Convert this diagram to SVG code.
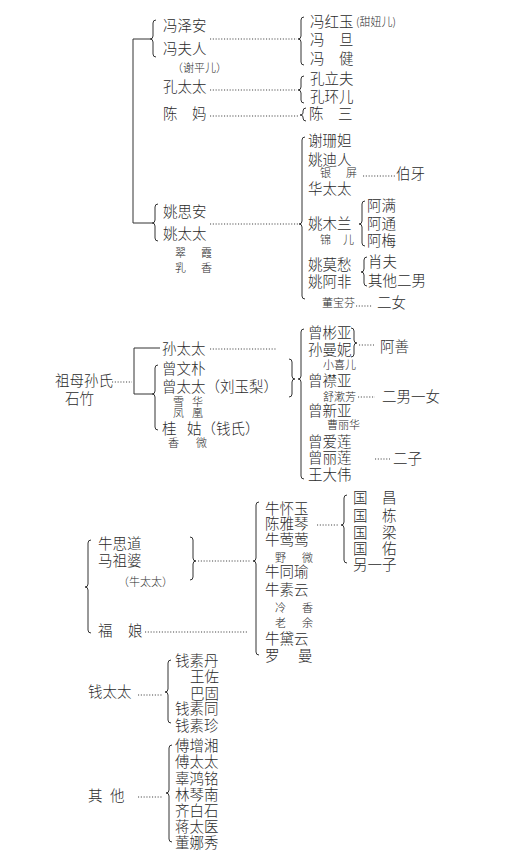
<svg xmlns="http://www.w3.org/2000/svg" width="515" height="857" viewBox="0 0 515 857">
<style>
text{font-family:"Noto Sans CJK SC","Noto Sans CJK TC",sans-serif;fill:#2b2b2b;font-weight:300}
.m{font-size:14.5px}
.s{font-size:11px}
.ln{fill:none;stroke:#333;stroke-width:1}
.dt{fill:none;stroke:#444;stroke-width:1.1;stroke-dasharray:1.1 1.7}
</style>
<rect width="515" height="857" fill="#fff"/>
<g id="connectors">
<!-- section 1 -->
<path class="ln" d="M133 39 H150 M133 39 V223 H152"/>
<path class="ln" d="M156 20 Q153 20 153 23 V36 Q153 39 150 39 Q153 39 153 42 V54 Q153 57 156 57"/>
<path class="ln" d="M304 17 Q301 17 301 20 V36 Q301 39 298 39 Q301 39 301 42 V62 Q301 65 304 65"/>
<path class="ln" d="M304 76 Q301 76 301 79 V87 Q301 90 298 90 Q301 90 301 93 V100 Q301 103 304 103"/>
<path class="ln" d="M306 108 Q303 108 303 111 V113 Q303 115 300 115 Q303 115 303 117 V118 Q303 121 306 121"/>
<path class="ln" d="M305 137 Q302 137 302 140 V221 Q302 224 299 224 Q302 224 302 227 V296 Q302 299 305 299"/>
<path class="ln" d="M158 204 Q155 204 155 207 V220 Q155 223 152 223 Q155 223 155 226 V238 Q155 241 158 241"/>
<path class="ln" d="M365 201 Q362 201 362 204 V221 Q362 224 359 224 Q362 224 362 227 V243 Q362 246 365 246"/>
<path class="ln" d="M367 257 Q364 257 364 260 V269 Q364 272 361 272 Q364 272 364 275 V283 Q364 286 367 286"/>
<path class="dt" d="M210 39 H297 M210 90 H297 M210 116 H299 M210 224 H298 M363 176 H395 M356 306 H372"/>
<!-- section 2 -->
<path class="dt" d="M112 382 H132 M210 349 H277 M359 345 H374 M358 397 H375 M375 459 H390"/>
<path class="ln" d="M160 348 H134 V394 H152"/>
<path class="ln" d="M158 365 Q155 365 155 368 V391 Q155 394 152 394 Q155 394 155 397 V427 Q155 430 158 430"/>
<path class="ln" d="M289 359 Q292 359 292 362 V376 Q292 379 295 379 Q292 379 292 382 V394 Q292 397 289 397"/>
<path class="ln" d="M304 329 Q301 329 301 332 V376 Q301 379 298 379 Q301 379 301 382 V476 Q301 479 304 479"/>
<path class="ln" d="M351 328 Q354 328 354 331 V340 Q354 343 357 343 Q354 343 354 346 V354 Q354 357 351 357"/>
<!-- section 3 -->
<path class="ln" d="M91 540 Q88 540 88 543 V584 Q88 587 85 587 Q88 587 88 590 V630 Q88 633 91 633"/>
<path class="ln" d="M190 537 Q193 537 193 540 V558 Q193 561 196 561 Q193 561 193 564 V577 Q193 580 190 580"/>
<path class="ln" d="M259 502 Q256 502 256 505 V558 Q256 561 253 561 Q256 561 256 564 V652 Q256 655 259 655"/>
<path class="ln" d="M347 495 Q344 495 344 498 V522 Q344 525 341 525 Q344 525 344 528 V560 Q344 563 347 563"/>
<path class="dt" d="M198 561 H251 M145 632 H248 M317 525 H338"/>
<!-- section 4 -->
<path class="ln" d="M171 660 Q168 660 168 663 V689 Q168 692 165 692 Q168 692 168 695 V720 Q168 723 171 723"/>
<path class="ln" d="M172 745 Q169 745 169 748 V790 Q169 793 166 793 Q169 793 169 796 V839 Q169 842 172 842"/>
<path class="dt" d="M138 695 H163 M138 797 H163"/>
</g>
<!-- section 1 nodes -->
<g id="n-fengzean"><text class="m" x="163" y="31">冯泽安</text></g>
<g id="n-fengfuren"><text class="m" x="163" y="54">冯夫人</text><text class="s" x="172" y="72">（谢平儿）</text></g>
<g id="n-kongtaitai"><text class="m" x="163" y="92">孔太太</text></g>
<g id="n-chenma"><text class="m" y="119"><tspan x="163">陈</tspan><tspan x="192">妈</tspan></text></g>
<g id="n-fenghongyu"><text class="m" x="310" y="27">冯红玉</text><text class="s" x="356" y="26">(甜妞儿)</text></g>
<g id="n-fengdan"><text class="m" y="45"><tspan x="310">冯</tspan><tspan x="339">旦</tspan></text></g>
<g id="n-fengjian"><text class="m" y="64"><tspan x="310">冯</tspan><tspan x="339">健</tspan></text></g>
<g id="n-konglifu"><text class="m" x="310" y="84">孔立夫</text></g>
<g id="n-konghuaner"><text class="m" x="310" y="102">孔环儿</text></g>
<g id="n-chensan"><text class="m" y="119"><tspan x="309">陈</tspan><tspan x="338">三</tspan></text></g>
<g id="n-yaosian"><text class="m" x="163" y="217">姚思安</text></g>
<g id="n-yaotaitai"><text class="m" x="163" y="239">姚太太</text></g>
<g id="n-cuixia"><text class="s" y="257"><tspan x="175">翠</tspan><tspan x="201">霞</tspan></text></g>
<g id="n-ruxiang"><text class="s" y="272"><tspan x="175">乳</tspan><tspan x="201">香</tspan></text></g>
<g id="n-xieshanjie"><text class="m" x="308" y="146">谢珊妲</text></g>
<g id="n-yaodiren"><text class="m" x="308" y="165">姚迪人</text></g>
<g id="n-yinping"><text class="s" y="177"><tspan x="320">银</tspan><tspan x="346">屏</tspan></text></g>
<g id="n-boya"><text class="m" x="396" y="179">伯牙</text></g>
<g id="n-huataitai"><text class="m" x="308" y="194">华太太</text></g>
<g id="n-yaomulan"><text class="m" x="308" y="229">姚木兰</text></g>
<g id="n-jiner"><text class="s" y="244"><tspan x="320">锦</tspan><tspan x="343">儿</tspan></text></g>
<g id="n-aman"><text class="m" x="367" y="211">阿满</text></g>
<g id="n-atong"><text class="m" x="367" y="229">阿通</text></g>
<g id="n-amei"><text class="m" x="367" y="246">阿梅</text></g>
<g id="n-yaomochou"><text class="m" x="308" y="270">姚莫愁</text></g>
<g id="n-yaoafei"><text class="m" x="308" y="287">姚阿非</text></g>
<g id="n-xiaofu"><text class="m" x="368" y="267">肖夫</text></g>
<g id="n-qitaernan"><text class="m" x="368" y="286">其他二男</text></g>
<g id="n-dongbaofen"><text class="s" x="322" y="307">董宝芬</text></g>
<g id="n-ernv"><text class="m" x="377" y="308">二女</text></g>
<!-- section 2 nodes -->
<g id="n-zumu"><text class="m" x="55" y="386">祖母孙氏</text><text class="m" x="65" y="404">石竹</text></g>
<g id="n-suntaitai"><text class="m" x="162" y="354">孙太太</text></g>
<g id="n-zengwenpu"><text class="m" x="162" y="374">曾文朴</text></g>
<g id="n-zengtaitai"><text class="m" x="162" y="392">曾太太（刘玉梨）</text></g>
<g id="n-xuehua"><text class="s" y="406"><tspan x="173">雪</tspan><tspan x="192">华</tspan></text></g>
<g id="n-fenghuang"><text class="s" y="417"><tspan x="173">凤</tspan><tspan x="192">凰</tspan></text></g>
<g id="n-guigu"><text class="m" y="434"><tspan x="162">桂</tspan><tspan x="187">姑（钱氏）</tspan></text></g>
<g id="n-xiangwei"><text class="s" y="447"><tspan x="168">香</tspan><tspan x="196">微</tspan></text></g>
<g id="n-zengbinya"><text class="m" x="308" y="338">曾彬亚</text></g>
<g id="n-sunmanni"><text class="m" x="308" y="355">孙曼妮</text></g>
<g id="n-ashan"><text class="m" x="380" y="352">阿善</text></g>
<g id="n-xiaoxier"><text class="s" x="323" y="369">小喜儿</text></g>
<g id="n-zengjinya"><text class="m" x="308" y="386">曾襟亚</text></g>
<g id="n-shushufang"><text class="s" x="323" y="401">舒漱芳</text></g>
<g id="n-ernanyinv"><text class="m" x="382" y="402">二男一女</text></g>
<g id="n-zengxinya"><text class="m" x="308" y="416">曾新亚</text></g>
<g id="n-caolihua"><text class="s" x="327" y="429">曹丽华</text></g>
<g id="n-zengailian"><text class="m" x="308" y="447">曾爱莲</text></g>
<g id="n-zenglilian"><text class="m" x="308" y="463">曾丽莲</text></g>
<g id="n-erzi"><text class="m" x="393" y="464">二子</text></g>
<g id="n-wangdawei"><text class="m" x="308" y="480">王大伟</text></g>
<!-- section 3 nodes -->
<g id="n-niusidao"><text class="m" x="98" y="549">牛思道</text></g>
<g id="n-mazupo"><text class="m" x="98" y="566">马祖婆</text><text class="s" x="118" y="586">（牛太太）</text></g>
<g id="n-funiang"><text class="m" y="636"><tspan x="98">福</tspan><tspan x="128">娘</tspan></text></g>
<g id="n-niuhuaiyu"><text class="m" x="265" y="514">牛怀玉</text></g>
<g id="n-chenyaqin"><text class="m" x="265" y="529">陈雅琴</text></g>
<g id="n-niuyingying"><text class="m" x="265" y="545">牛莺莺</text></g>
<g id="n-yewei"><text class="s" y="562"><tspan x="275">野</tspan><tspan x="302">微</tspan></text></g>
<g id="n-niutongyu"><text class="m" x="265" y="577">牛同瑜</text></g>
<g id="n-niusuyun"><text class="m" x="265" y="595">牛素云</text></g>
<g id="n-lengxiang"><text class="s" y="612"><tspan x="275">冷</tspan><tspan x="302">香</tspan></text></g>
<g id="n-laoyu"><text class="s" y="627"><tspan x="275">老</tspan><tspan x="302">余</tspan></text></g>
<g id="n-niudaiyun"><text class="m" x="265" y="644">牛黛云</text></g>
<g id="n-luoman"><text class="m" y="661"><tspan x="265">罗</tspan><tspan x="298">曼</tspan></text></g>
<g id="n-guochang"><text class="m" y="503"><tspan x="353">国</tspan><tspan x="382">昌</tspan></text></g>
<g id="n-guodong"><text class="m" y="521"><tspan x="353">国</tspan><tspan x="382">栋</tspan></text></g>
<g id="n-guoliang"><text class="m" y="538"><tspan x="353">国</tspan><tspan x="382">梁</tspan></text></g>
<g id="n-guoyou"><text class="m" y="554"><tspan x="353">国</tspan><tspan x="382">佑</tspan></text></g>
<g id="n-lingyizi"><text class="m" x="353" y="570">另一子</text></g>
<!-- section 4 nodes -->
<g id="n-qiantaitai"><text class="m" x="88" y="697">钱太太</text></g>
<g id="n-qiansudan"><text class="m" x="175" y="666">钱素丹</text></g>
<g id="n-wangzuo"><text class="m" x="190" y="682">王佐</text></g>
<g id="n-bagu"><text class="m" x="190" y="699">巴固</text></g>
<g id="n-qiansutong"><text class="m" x="175" y="714">钱素同</text></g>
<g id="n-qiansuzhen"><text class="m" x="175" y="731">钱素珍</text></g>
<g id="n-qita"><text class="m" y="801"><tspan x="88">其</tspan><tspan x="110">他</tspan></text></g>
<g id="n-fuzengxiang"><text class="m" x="175" y="751">傅增湘</text></g>
<g id="n-futaitai"><text class="m" x="175" y="767">傅太太</text></g>
<g id="n-guhongming"><text class="m" x="175" y="784">辜鸿铭</text></g>
<g id="n-linqinnan"><text class="m" x="175" y="800">林琴南</text></g>
<g id="n-qibaishi"><text class="m" x="175" y="816">齐白石</text></g>
<g id="n-jiangtaiyi"><text class="m" x="175" y="832">蒋太医</text></g>
<g id="n-dongnaxiu"><text class="m" x="175" y="848">董娜秀</text></g>
</svg>
